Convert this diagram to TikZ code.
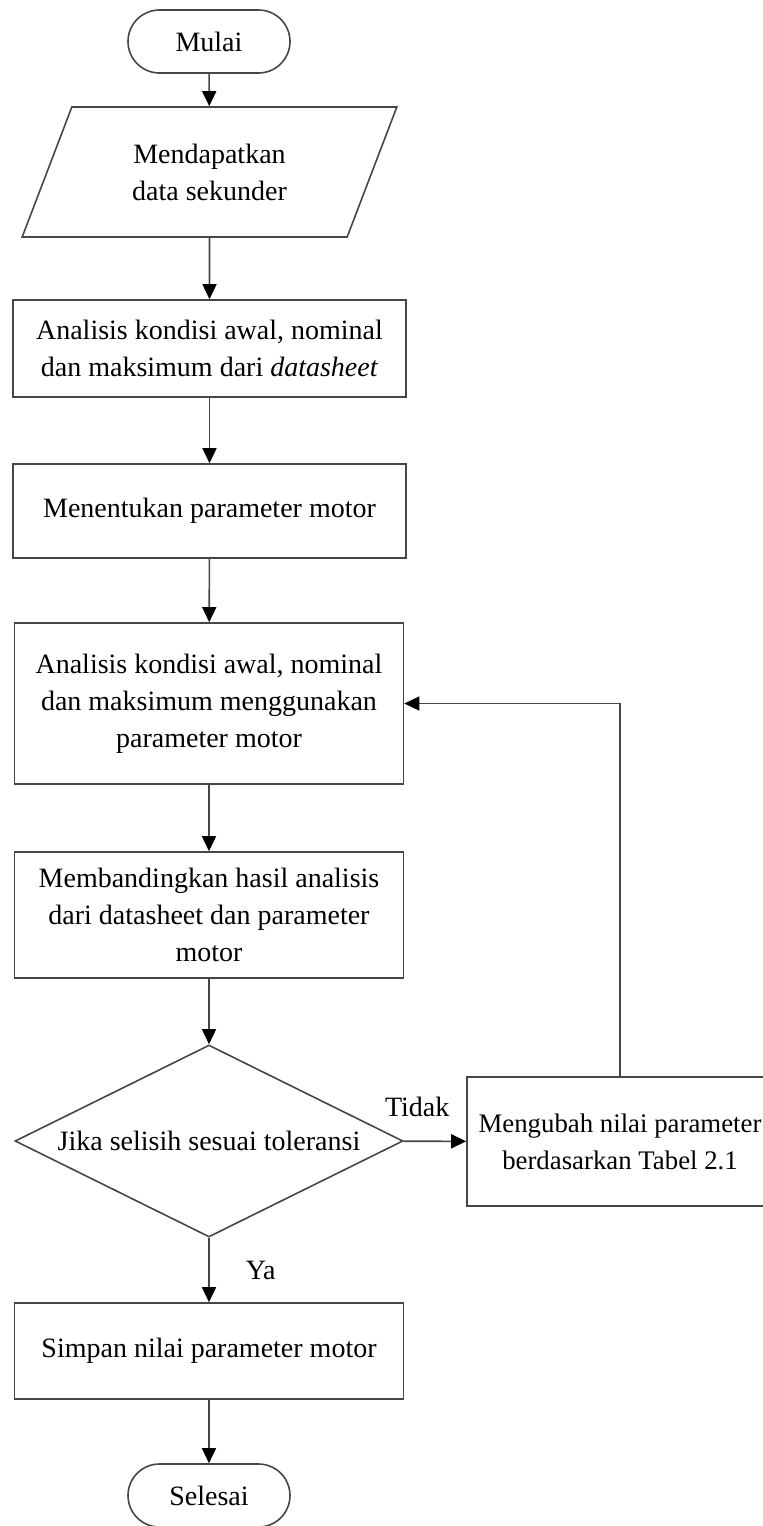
\documentclass[tikz,border=0pt]{standalone}
\usepackage{fontspec}
\setmainfont{Liberation Serif}
\usepackage{tikz}
\usetikzlibrary{arrows.meta,positioning,shapes.geometric}
\usepackage{xcolor}
\definecolor{linecol}{RGB}{70,70,70}
\tikzset{
  % flow arrow
  flow/.style={-{Triangle[length=7.5pt,width=7pt,color=black]}, draw=linecol, line width=0.8pt},
  % start / end
  term/.style={rectangle, rounded corners=15.75pt, draw=linecol, line width=0.8pt,
               minimum width=81pt, minimum height=31.5pt, inner sep=0pt},
  % input / output
  iobox/.style={trapezium, trapezium left angle=63.8, trapezium right angle=116.2,
                trapezium stretches=true, draw=linecol, line width=0.8pt,
                minimum width=187.5pt, minimum height=65pt, inner sep=0pt, align=center},
  % process box
  procbox/.style={rectangle, draw=linecol, line width=0.8pt, minimum width=#1,
                  inner sep=0pt, align=center},
  procbox/.default={196.5pt},
  % decision
  decbox/.style={diamond, draw=linecol, line width=0.8pt, minimum width=194pt,
                 minimum height=96pt, inner sep=0pt, aspect=2},
  % branch label
  branchlabel/.style={inner sep=0pt},
}

\begin{document}
\begin{tikzpicture}[x=0.5pt, y=-0.5pt, font=\fontsize{14pt}{18.5pt}\selectfont]
  \useasboundingbox (0,0) rectangle (763,1526);
  \clip (0,0) rectangle (763,1526);

  \node[term] (mulai) at (209,41.5) {Mulai};
  \node[iobox] (data) at (209.5,172) {Mendapatkan\\data sekunder};
  \node[procbox, minimum height=48.5pt] (anads) at (209.5,348.5)
    {Analisis kondisi awal, nominal\\dan maksimum dari \textit{datasheet}};
  \node[procbox, minimum height=47pt] (param) at (209.5,511) {Menentukan parameter motor};
  \node[procbox=194.5pt, minimum height=80.5pt] (anapar) at (209,703.5)
    {Analisis kondisi awal, nominal\\dan maksimum menggunakan\\parameter motor};
  \node[procbox=194.5pt, minimum height=63pt] (banding) at (209,915)
    {Membandingkan hasil analisis\\dari datasheet dan parameter\\motor};
  \node[decbox] (cek) at (209,1141) {Jika selisih sesuai toleransi};
  \node[procbox=153pt, minimum height=64.5pt, font=\fontsize{13.4pt}{18.5pt}\selectfont]
    (ubah) at (620,1141.5) {Mengubah nilai parameter\\berdasarkan Tabel 2.1};
  \node[procbox=194.5pt, minimum height=48pt] (simpan) at (209,1351) {Simpan nilai parameter motor};
  \node[term] (selesai) at (209,1495.5) {Selesai};

  % main flow
  \draw[flow] (mulai) -- (data);
  \draw[flow] (data) -- (anads);
  \draw[flow] (anads) -- (param);
  \draw[flow] (param) -- (anapar);
  \draw[flow] (anapar) -- (banding);
  \draw[flow] (banding) -- (cek);
  \draw[flow] (cek) -- node[branchlabel, pos=0.5, right=18pt] {Ya} (simpan);
  \draw[flow] (simpan) -- (selesai);

  % loop back
  \draw[flow] (cek) -- node[branchlabel, pos=0.22, above=12pt] {Tidak} (ubah);
  \draw[flow] (ubah.north) |- (anapar.east);
\end{tikzpicture}
\end{document}
